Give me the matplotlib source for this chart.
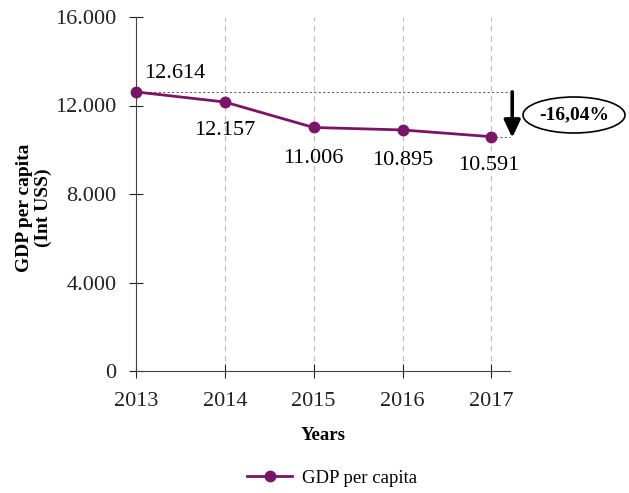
import matplotlib
matplotlib.use("Agg")
import matplotlib.pyplot as plt
from matplotlib.patches import Ellipse

years = [2013, 2014, 2015, 2016, 2017]
gdp = [12614, 12157, 11006, 10895, 10591]
labels = ["12.614", "12.157", "11.006", "10.895", "10.591"]
yticks = [0, 4000, 8000, 12000, 16000]
ytick_labels = ["0", "4.000", "8.000", "12.000", "16.000"]
change_label = "-16,04%"

plt.rcParams['font.family'] = ['Liberation Serif', 'DejaVu Serif']
color = '#7B1466'

fig = plt.figure(figsize=(6.29, 4.93), dpi=100)
ax = fig.add_axes([136/629, 1-371/493, (510-136)/629, (371-17)/493])

ax.plot(years, gdp, color=color, lw=2, marker='o', ms=7.5, zorder=3, label='GDP per capita', clip_on=False)
ax.set_xlim(2013, 2017.21)
ax.set_ylim(0, 16000)
ax.set_yticks(yticks)
ax.set_yticklabels(ytick_labels)
ax.set_xticks(years)
ax.set_xticklabels([str(y) for y in years])
ax.tick_params(direction='inout', length=10, labelsize=16, colors='#222222')
ax.tick_params(axis='y', pad=9)
ax.tick_params(axis='x', pad=10)
for s in ['top', 'right']:
    ax.spines[s].set_visible(False)
for s in ['left', 'bottom']:
    ax.spines[s].set_color('#444444')
for y in years[1:]:
    ax.axvline(y, color='#bbbbbb', ls=(0, (5, 4)), lw=0.8, zorder=1)

ax.axhline(gdp[0], color='#666666', ls=(0, (2, 2)), lw=0.8, zorder=1)
ax.plot([years[-1], 2017.21], [gdp[-1], gdp[-1]], color='#666666', ls=(0, (2, 2)), lw=0.8, zorder=1, clip_on=False)

offsets = [(0.44, 850), (0, -1270), (0, -1400), (0, -1400), (-0.03, -1300)]
for x, y, lab, (dx, dy) in zip(years, gdp, labels, offsets):
    ax.text(x + dx, y + dy, lab, ha='center', va='center', fontsize=16)

ax.annotate('', xy=(2017.235, gdp[-1] - 50), xytext=(2017.235, gdp[0]),
            arrowprops=dict(arrowstyle='-|>,head_width=0.35,head_length=0.75', color='black', lw=2.6,
                            mutation_scale=14, shrinkA=0, shrinkB=0),
            annotation_clip=False)

fig.patches.append(Ellipse((574/629, 1-115/493), 102/629, 36/493, transform=fig.transFigure,
                           facecolor='white', edgecolor='black', lw=1.2))
fig.text(574/629, 1-115/493, change_label, ha='center', va='center', fontsize=14, fontweight='bold')

fig.text(34/629, 1-208/493, 'GDP per capita\n(Int USS)', rotation=90, ha='center', va='center',
         fontsize=14, fontweight='bold', linespacing=1.15, multialignment='center')
ax.set_xlabel('Years', fontsize=13.5, fontweight='bold', labelpad=12)

fig.legend(loc='center', bbox_to_anchor=(332/629, 1-478/493), frameon=False, fontsize=13.5,
           handlelength=2.4, handletextpad=0.5)

fig.savefig('out.png', dpi=100)
